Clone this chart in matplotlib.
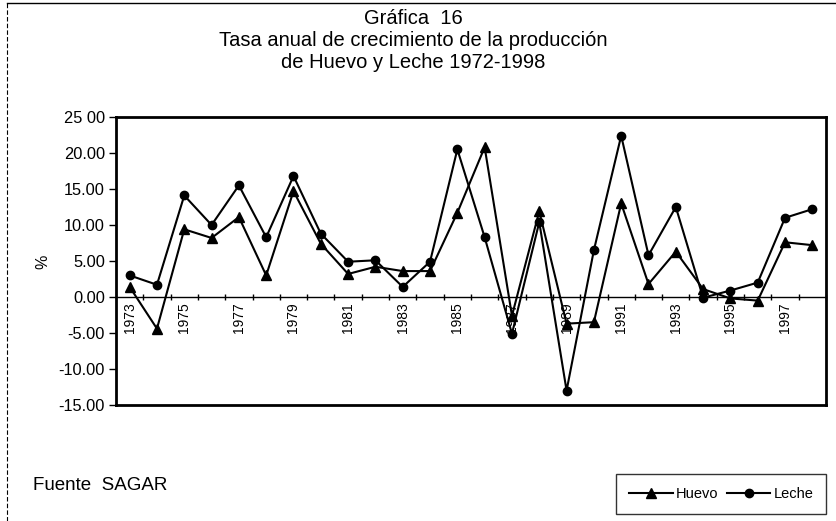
import numpy as np
import matplotlib.pyplot as plt
from matplotlib.lines import Line2D

plt.rcParams['font.family'] = ['Liberation Sans', 'DejaVu Sans']

years = list(range(1973, 1999))
huevo = [1.4, -4.4, 9.4, 8.2, 11.1, 3.0, 14.7, 7.4, 3.2, 4.2, 3.6, 3.6, 11.7,
         20.8, -2.6, 11.9, -3.7, -3.5, 13.0, 1.8, 6.3, 1.1, -0.2, -0.5, 7.6, 7.2]
leche = [3.0, 1.7, 14.1, 10.0, 15.5, 8.3, 16.8, 8.8, 4.9, 5.1, 1.4, 4.9, 20.5,
         8.3, -5.1, 10.4, -13.0, 6.5, 22.4, 5.8, 12.5, -0.1, 0.9, 2.0, 11.0, 12.2]
yticks = [25, 20, 15, 10, 5, 0, -5, -10, -15]
ytick_labels = ["25 00", "20.00", "15.00", "10.00", "5.00", "0.00", "-5.00", "-10.00", "-15.00"]

fig = plt.figure(figsize=(8.37, 5.21), dpi=100)
ax = fig.add_axes([116/837, 1-405/521, 710/837, 288/521])

x = np.arange(len(years))
ax.plot(x, huevo, color='black', lw=1.5, marker='^', ms=6.5, label='Huevo')
ax.plot(x, leche, color='black', lw=1.5, marker='o', ms=6, label='Leche')

ax.set_xlim(-0.5, len(years) - 0.5)
ax.set_ylim(-15, 25)
ax.set_xticks([])
ax.set_yticks(yticks)
ax.set_yticklabels(ytick_labels, fontsize=11.8)
ax.tick_params(axis='y', direction='out', length=5, width=1, pad=3)
for s in ax.spines.values():
    s.set_linewidth(2)

# category axis crossing at zero
sec = ax.secondary_xaxis(15/40)
sec.spines['bottom'].set_linewidth(1)
odd = [i for i, yr in enumerate(years) if yr % 2 == 1]
sec.set_xticks(odd)
sec.set_xticklabels([str(years[i]) for i in odd], rotation=90, fontsize=10)
sec.set_xticks(np.arange(len(years)) + 0.5, minor=True)
sec.tick_params(axis='x', which='major', length=0, pad=4)
sec.tick_params(axis='x', which='minor', length=4, width=1, direction='inout')

fig.text(43/837, 1-262/521, '%', rotation=90, ha='center', va='center', fontsize=11.5)
fig.text(0.494, 1-18/521, 'Gráfica  16', ha='center', va='center', fontsize=14.5)
fig.text(0.494, 1-40/521, 'Tasa anual de crecimiento de la producción', ha='center', va='center', fontsize=14.5)
fig.text(0.494, 1-62/521, 'de Huevo y Leche 1972-1998', ha='center', va='center', fontsize=14.5)
fig.text(33/837, 1-485/521, 'Fuente  SAGAR', ha='left', va='center', fontsize=13.5)

leg = fig.legend(loc='center', bbox_to_anchor=(721/837, 1-494/521), ncol=2, fontsize=10.5,
                 frameon=True, fancybox=False, edgecolor='black', handlelength=3,
                 columnspacing=0.6, handletextpad=0.2, borderpad=0.9, borderaxespad=0)
leg.get_frame().set_linewidth(1)

# outer border
fig.add_artist(Line2D([7/837, 1], [1-3/521, 1-3/521], color='black', lw=1))
fig.add_artist(Line2D([7/837, 7/837], [0, 1-3/521], color='black', lw=0.8, ls=(0, (4, 2))))

fig.savefig('out.png', dpi=100)
